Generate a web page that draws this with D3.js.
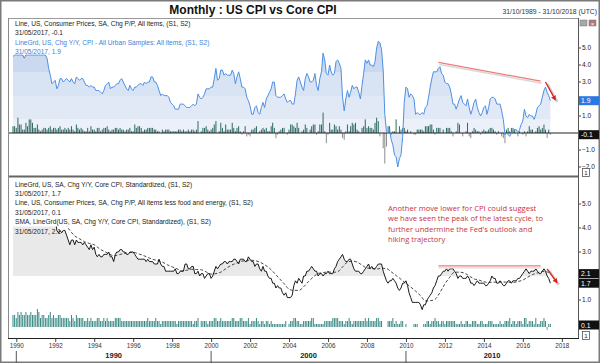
<!DOCTYPE html>
<html>
<head>
<meta charset="utf-8">
<script src="https://cdn.jsdelivr.net/npm/d3@7"></script>
<style>
body { margin: 0; background: #fff; }
svg text { font-family: "Liberation Sans", Arial, sans-serif; }
</style>
</head>
<body>
<div id="chart"></div>
<script>
// monthly series, first value = Oct 1989, last value = May 2017
const cpiYoY = [
  4.5, 4.7, 4.6,
  5.2, 5.3, 5.2, 4.7, 4.4, 4.7, 4.8, 5.6, 6.2, 6.3, 6.3, 6.1,
  5.7, 5.3, 4.9, 4.9, 5.0, 4.7, 4.4, 3.8, 3.4, 2.9, 3.0, 3.1,
  2.6, 2.8, 3.2, 3.2, 3.0, 3.1, 3.2, 3.1, 3.0, 3.2, 3.0, 2.9,
  3.3, 3.2, 3.1, 3.2, 3.2, 3.0, 2.8, 2.8, 2.7, 2.8, 2.7, 2.7,
  2.5, 2.5, 2.5, 2.4, 2.3, 2.5, 2.8, 2.9, 3.0, 2.6, 2.7, 2.7,
  2.8, 2.9, 2.9, 3.1, 3.2, 3.0, 2.8, 2.6, 2.5, 2.8, 2.6, 2.5,
  2.7, 2.7, 2.8, 2.9, 2.9, 2.8, 3.0, 2.9, 3.0, 3.0, 3.3, 3.3,
  3.0, 3.0, 2.8, 2.5, 2.2, 2.3, 2.2, 2.2, 2.2, 2.1, 1.8, 1.7,
  1.6, 1.4, 1.4, 1.4, 1.7, 1.7, 1.7, 1.6, 1.5, 1.5, 1.5, 1.6,
  1.7, 1.6, 1.7, 2.3, 2.1, 2.0, 2.1, 2.3, 2.6, 2.6, 2.6, 2.7,
  2.7, 3.2, 3.8, 3.1, 3.2, 3.7, 3.7, 3.4, 3.5, 3.4, 3.4, 3.4,
  3.7, 3.5, 2.9, 3.3, 3.6, 3.2, 2.7, 2.7, 2.6, 2.1, 1.9, 1.6,
  1.1, 1.1, 1.5, 1.6, 1.2, 1.1, 1.5, 1.8, 1.5, 2.0, 2.2, 2.4,
  2.6, 3.0, 3.0, 2.2, 2.1, 2.1, 2.1, 2.2, 2.3, 2.0, 1.8, 1.9,
  1.9, 1.7, 1.7, 2.3, 3.1, 3.3, 3.0, 2.7, 2.5, 3.2, 3.5, 3.3,
  3.0, 3.0, 3.1, 3.5, 2.8, 2.5, 3.2, 3.6, 4.7, 4.3, 3.5, 3.4,
  4.0, 3.6, 3.4, 3.5, 4.2, 4.3, 4.1, 3.8, 2.1, 1.3, 2.0, 2.5,
  2.1, 2.4, 2.8, 2.6, 2.7, 2.7, 2.4, 2.0, 2.8, 3.5, 4.3, 4.1,
  4.3, 4.0, 4.0, 3.9, 4.2, 5.0, 5.4, 5.3, 4.9, 3.7, 1.1, 0.1,
  0.0, 0.2, -0.4, -0.7, -1.3, -1.4, -2.0, -1.5, -1.3, -0.2, 1.8, 2.7,
  2.6, 2.1, 2.3, 2.2, 2.0, 1.1, 1.2, 1.1, 1.1, 1.2, 1.1, 1.5,
  1.6, 2.1, 2.7, 3.2, 3.6, 3.6, 3.6, 3.8, 3.9, 3.5, 3.4, 3.0,
  2.9, 2.9, 2.7, 2.3, 1.7, 1.7, 1.4, 1.7, 2.0, 2.2, 1.8, 1.7,
  1.6, 2.0, 1.5, 1.1, 1.4, 1.8, 2.0, 1.5, 1.2, 1.0, 1.2, 1.5,
  1.6, 1.1, 1.5, 2.0, 2.1, 2.1, 2.0, 1.7, 1.7, 1.7, 1.3, 0.8,
  -0.1, 0.0, -0.1, -0.2, 0.0, 0.1, 0.2, 0.2, 0.0, 0.2, 0.5, 0.7,
  1.4, 1.0, 0.9, 1.1, 1.0, 1.0, 0.8, 1.1, 1.5, 1.6, 1.7, 2.1,
  2.5, 2.7, 2.4, 2.2, 1.9
];

const cpiMoM = [
  0.4, 0.4, 0.3,
  0.9, 0.5, 0.5, 0.2, 0.2, 0.6, 0.4, 0.8, 0.8, 0.6, 0.3, 0.3,
  0.5, 0.2, 0.1, 0.2, 0.3, 0.3, 0.2, 0.3, 0.4, 0.2, 0.3, 0.3,
  0.2, 0.3, 0.4, 0.2, 0.2, 0.3, 0.2, 0.3, 0.2, 0.4, 0.2, 0.1,
  0.5, 0.3, 0.2, 0.3, 0.2, 0.1, 0.1, 0.3, 0.1, 0.4, 0.2, 0.2,
  0.1, 0.3, 0.3, 0.1, 0.2, 0.3, 0.3, 0.4, 0.2, 0.1, 0.2, 0.2,
  0.3, 0.3, 0.2, 0.3, 0.2, 0.2, 0.1, 0.2, 0.2, 0.3, 0.1, 0.1,
  0.5, 0.3, 0.4, 0.4, 0.3, 0.1, 0.2, 0.2, 0.3, 0.3, 0.3, 0.3,
  0.2, 0.2, 0.1, 0.1, 0.0, 0.2, 0.1, 0.2, 0.2, 0.2, 0.1, 0.1,
  0.1, 0.1, 0.1, 0.2, 0.2, 0.1, 0.2, 0.1, 0.1, 0.2, 0.1, 0.2,
  0.2, 0.1, 0.2, 0.7, 0.0, 0.1, 0.3, 0.3, 0.4, 0.2, 0.1, 0.2,
  0.3, 0.5, 0.7, 0.0, 0.1, 0.6, 0.3, 0.1, 0.5, 0.2, 0.2, 0.2,
  0.6, 0.3, 0.1, 0.3, 0.4, 0.1, -0.1, 0.1, 0.4, -0.2, -0.1, -0.2,
  0.2, 0.2, 0.3, 0.4, 0.0, 0.1, 0.2, 0.3, 0.2, 0.3, 0.1, 0.1,
  0.4, 0.6, 0.3, -0.3, -0.1, 0.1, 0.2, 0.3, 0.3, 0.0, -0.1, 0.2,
  0.5, 0.5, 0.4, 0.3, 0.6, 0.3, 0.0, 0.1, 0.2, 0.5, 0.3, 0.0,
  0.2, 0.4, 0.5, 0.5, -0.1, 0.1, 0.5, 0.5, 1.2, 0.1, -0.6, -0.1,
  0.6, 0.2, 0.2, 0.5, 0.4, 0.2, 0.4, 0.2, -0.3, -0.4, 0.1, 0.5,
  0.1, 0.4, 0.6, 0.5, 0.6, 0.2, 0.1, 0.0, 0.3, 0.4, 0.8, 0.3,
  0.4, 0.3, 0.3, 0.2, 0.6, 0.9, 0.7, -0.2, 0.0, -0.9, -1.8, -0.8,
  0.4, 0.4, -0.1, 0.1, 0.1, 0.8, 0.0, 0.4, 0.2, 0.3, 0.3, 0.1,
  0.2, 0.0, 0.1, 0.0, -0.1, -0.1, 0.2, 0.2, 0.2, 0.2, 0.1, 0.4,
  0.4, 0.4, 0.5, 0.5, 0.2, -0.1, 0.3, 0.3, 0.3, 0.0, 0.2, 0.0,
  0.3, 0.3, 0.3, 0.1, -0.2, 0.0, 0.1, 0.6, 0.5, 0.0, -0.2, 0.0,
  0.1, 0.6, -0.2, -0.3, 0.1, 0.3, 0.2, 0.1, 0.1, -0.1, 0.1, 0.2,
  0.1, 0.1, 0.2, 0.3, 0.3, 0.2, 0.1, -0.1, 0.1, 0.0, -0.2, -0.3,
  -0.6, 0.2, 0.3, 0.1, 0.3, 0.3, 0.2, 0.0, -0.2, 0.1, 0.0, -0.1,
  0.1, -0.2, 0.1, 0.4, 0.2, 0.2, 0.0, 0.1, 0.3, 0.4, 0.2, 0.3,
  0.5, 0.2, -0.3, 0.2, -0.1
];

const coreYoY = [
  4.4, 4.4, 4.4,
  4.4, 4.6, 4.9, 4.8, 4.8, 4.8, 5.0, 5.5, 5.5, 5.3, 5.3, 5.2,
  5.6, 5.6, 5.2, 5.1, 5.1, 4.8, 4.6, 4.6, 4.6, 4.4, 4.5, 4.4,
  3.9, 3.8, 3.9, 3.8, 3.9, 3.9, 3.7, 3.5, 3.3, 3.5, 3.5, 3.3,
  3.5, 3.4, 3.4, 3.4, 3.3, 3.4, 3.3, 3.2, 3.1, 3.3, 3.1, 3.2,
  2.9, 2.8, 2.9, 2.8, 2.8, 2.9, 2.9, 2.9, 3.0, 2.8, 2.8, 2.6,
  2.9, 3.0, 3.0, 3.1, 3.1, 3.0, 3.0, 2.9, 2.9, 3.0, 3.0, 3.0,
  2.9, 2.8, 2.7, 2.7, 2.7, 2.7, 2.7, 2.6, 2.7, 2.6, 2.6, 2.6,
  2.5, 2.5, 2.5, 2.7, 2.5, 2.4, 2.4, 2.2, 2.2, 2.2, 2.2, 2.2,
  2.2, 2.3, 2.1, 2.1, 2.2, 2.2, 2.2, 2.5, 2.5, 2.3, 2.3, 2.4,
  2.4, 2.1, 2.1, 2.2, 2.0, 2.1, 2.1, 1.9, 2.0, 2.1, 2.1, 1.9,
  2.0, 2.2, 2.4, 2.3, 2.4, 2.5, 2.5, 2.6, 2.6, 2.5, 2.6, 2.6,
  2.6, 2.7, 2.7, 2.6, 2.5, 2.7, 2.7, 2.7, 2.6, 2.6, 2.8, 2.7,
  2.6, 2.6, 2.4, 2.5, 2.5, 2.3, 2.2, 2.4, 2.2, 2.2, 2.0, 1.9,
  1.9, 1.7, 1.7, 1.5, 1.6, 1.5, 1.5, 1.3, 1.2, 1.3, 1.1, 1.1,
  1.1, 1.2, 1.6, 1.8, 1.7, 1.9, 1.8, 1.7, 2.0, 2.0, 2.2, 2.2,
  2.3, 2.4, 2.3, 2.2, 2.2, 2.0, 2.1, 2.1, 2.0, 2.1, 2.1, 2.2,
  2.1, 2.1, 2.1, 2.3, 2.4, 2.6, 2.7, 2.8, 2.9, 2.7, 2.6, 2.6,
  2.7, 2.7, 2.5, 2.3, 2.2, 2.2, 2.2, 2.1, 2.1, 2.2, 2.3, 2.4,
  2.5, 2.3, 2.4, 2.3, 2.3, 2.4, 2.5, 2.5, 2.5, 2.2, 2.0, 1.8,
  1.7, 1.8, 1.8, 1.9, 1.8, 1.7, 1.5, 1.4, 1.5, 1.7, 1.7, 1.8,
  1.6, 1.3, 1.1, 0.9, 0.9, 0.9, 0.9, 0.9, 0.8, 0.6, 0.8, 0.8,
  1.0, 1.1, 1.2, 1.3, 1.5, 1.6, 1.8, 2.0, 2.0, 2.1, 2.2, 2.2,
  2.3, 2.2, 2.3, 2.3, 2.3, 2.2, 2.1, 1.9, 2.0, 2.0, 1.9, 1.9,
  1.9, 2.0, 1.9, 1.7, 1.7, 1.6, 1.7, 1.8, 1.7, 1.7, 1.7, 1.7,
  1.6, 1.6, 1.7, 1.8, 2.0, 1.9, 1.9, 1.7, 1.7, 1.8, 1.7, 1.6,
  1.6, 1.7, 1.8, 1.8, 1.7, 1.8, 1.8, 1.8, 1.9, 1.9, 2.0, 2.1,
  2.2, 2.3, 2.2, 2.1, 2.2, 2.2, 2.2, 2.3, 2.2, 2.1, 2.1, 2.2,
  2.3, 2.2, 2.0, 1.9, 1.7
];

const coreMoM = [
  0.4, 0.4, 0.3,
  0.5, 0.4, 0.5, 0.4, 0.4, 0.5, 0.4, 0.4, 0.5, 0.4, 0.4, 0.4,
  0.6, 0.5, 0.3, 0.4, 0.4, 0.3, 0.3, 0.4, 0.5, 0.3, 0.4, 0.3,
  0.3, 0.4, 0.4, 0.3, 0.3, 0.3, 0.3, 0.3, 0.2, 0.4, 0.3, 0.2,
  0.4, 0.3, 0.3, 0.3, 0.3, 0.2, 0.2, 0.3, 0.2, 0.3, 0.2, 0.2,
  0.2, 0.3, 0.3, 0.2, 0.2, 0.3, 0.2, 0.3, 0.2, 0.2, 0.2, 0.2,
  0.3, 0.3, 0.3, 0.3, 0.2, 0.2, 0.2, 0.2, 0.2, 0.2, 0.2, 0.2,
  0.2, 0.2, 0.2, 0.2, 0.2, 0.2, 0.2, 0.2, 0.3, 0.2, 0.2, 0.2,
  0.2, 0.3, 0.2, 0.2, 0.1, 0.2, 0.2, 0.2, 0.2, 0.2, 0.2, 0.2,
  0.2, 0.2, 0.1, 0.2, 0.2, 0.2, 0.2, 0.2, 0.2, 0.2, 0.2, 0.2,
  0.1, 0.2, 0.2, 0.3, 0.0, 0.2, 0.2, 0.2, 0.2, 0.1, 0.2, 0.2,
  0.2, 0.3, 0.3, 0.2, 0.2, 0.3, 0.2, 0.2, 0.2, 0.2, 0.2, 0.2,
  0.3, 0.3, 0.2, 0.2, 0.2, 0.3, 0.3, 0.2, 0.2, 0.2, 0.3, 0.1,
  0.2, 0.2, 0.2, 0.3, 0.2, 0.1, 0.2, 0.2, 0.1, 0.2, 0.2, 0.1,
  0.2, 0.1, 0.1, 0.1, 0.1, 0.1, 0.1, 0.1, 0.1, 0.2, 0.0, 0.1,
  0.2, 0.2, 0.3, 0.3, 0.2, 0.2, 0.1, 0.1, 0.2, 0.2, 0.2, 0.2,
  0.2, 0.3, 0.3, 0.1, 0.1, 0.1, 0.1, 0.1, 0.1, 0.2, 0.2, 0.2,
  0.2, 0.2, 0.3, 0.3, 0.3, 0.3, 0.2, 0.2, 0.2, 0.1, 0.2, 0.2,
  0.3, 0.2, 0.1, 0.2, 0.2, 0.2, 0.2, 0.2, 0.2, 0.2, 0.3, 0.2,
  0.3, 0.2, 0.2, 0.2, 0.2, 0.3, 0.3, 0.2, 0.2, 0.0, 0.0, 0.0,
  0.2, 0.2, 0.2, 0.3, 0.1, 0.2, 0.1, 0.1, 0.2, 0.2, 0.0, 0.1,
  0.0, 0.0, 0.0, 0.0, 0.1, 0.1, 0.1, 0.0, 0.0, 0.0, 0.1, 0.1,
  0.2, 0.2, 0.1, 0.2, 0.2, 0.3, 0.2, 0.2, 0.1, 0.2, 0.2, 0.1,
  0.2, 0.2, 0.2, 0.2, 0.2, 0.2, 0.1, 0.1, 0.1, 0.2, 0.1, 0.1,
  0.2, 0.2, 0.1, 0.1, 0.2, 0.2, 0.2, 0.1, 0.1, 0.2, 0.2, 0.1,
  0.1, 0.1, 0.2, 0.2, 0.2, 0.1, 0.1, 0.1, 0.1, 0.2, 0.1, 0.1,
  0.2, 0.2, 0.2, 0.3, 0.1, 0.2, 0.2, 0.1, 0.2, 0.2, 0.2, 0.1,
  0.3, 0.3, 0.1, 0.2, 0.2, 0.2, 0.1, 0.3, 0.1, 0.1, 0.2, 0.2,
  0.3, 0.2, -0.1, 0.1, 0.1
];

// 12m simple moving average of core, read at quarter ends
const smaDates = [
  "1989-12","1990-03","1990-06","1990-09","1990-12","1991-03","1991-06","1991-09","1991-12",
  "1992-03","1992-06","1992-09","1992-12","1993-03","1993-06","1993-09","1993-12",
  "1994-03","1994-06","1994-09","1994-12","1995-03","1995-06","1995-09","1995-12",
  "1996-03","1996-06","1996-09","1996-12","1997-03","1997-06","1997-09","1997-12",
  "1998-03","1998-06","1998-09","1998-12","1999-03","1999-06","1999-09","1999-12",
  "2000-03","2000-06","2000-09","2000-12","2001-03","2001-06","2001-09","2001-12",
  "2002-03","2002-06","2002-09","2002-12","2003-03","2003-06","2003-09","2003-12",
  "2004-03","2004-06","2004-09","2004-12","2005-03","2005-06","2005-09","2005-12",
  "2006-03","2006-06","2006-09","2006-12","2007-03","2007-06","2007-09","2007-12",
  "2008-03","2008-06","2008-09","2008-12","2009-03","2009-06","2009-09","2009-12",
  "2010-03","2010-06","2010-09","2010-12","2011-03","2011-06","2011-09","2011-12",
  "2012-03","2012-06","2012-09","2012-12","2013-03","2013-06","2013-09","2013-12",
  "2014-03","2014-06","2014-09","2014-12","2015-03","2015-06","2015-09","2015-12",
  "2016-03","2016-06","2016-09","2016-12","2017-03","2017-05"
];
const smaValues = [
  4.4, 4.45, 4.58, 4.8, 5.01, 5.15, 5.27, 5.1, 4.88,
  4.55, 4.19, 3.9, 3.67, 3.55, 3.43, 3.36, 3.3,
  3.15, 3.03, 2.93, 2.84, 2.88, 2.93, 2.97, 2.99,
  2.93, 2.86, 2.78, 2.69, 2.65, 2.58, 2.47, 2.38,
  2.3, 2.21, 2.24, 2.28, 2.27, 2.26, 2.17, 2.08,
  2.1, 2.16, 2.3, 2.43, 2.52, 2.6, 2.64, 2.66,
  2.64, 2.58, 2.47, 2.32, 2.12, 1.9, 1.68, 1.45,
  1.4, 1.4, 1.55, 1.77, 1.96, 2.11, 2.14, 2.17,
  2.15, 2.18, 2.38, 2.58, 2.62, 2.58, 2.45, 2.33,
  2.31, 2.29, 2.32, 2.31, 2.17, 2.02, 1.86, 1.69,
  1.54, 1.37, 1.18, 0.96, 0.97, 1.03, 1.32, 1.67,
  1.95, 2.16, 2.16, 2.12, 2.0, 1.88, 1.83, 1.76,
  1.73, 1.74, 1.75, 1.75, 1.74, 1.73, 1.77, 1.83,
  1.95, 2.06, 2.13, 2.19, 2.17, 2.1
];

const topLegend = [
  "Line, US, Consumer Prices, SA, Chg P/P, All items, (S1, S2)",
  "31/05/2017, -0.1",
  "LineGrd, US, Chg Y/Y, CPI - All Urban Samples: All items, (S1, S2)",
  "31/05/2017, 1.9"
];
const bottomLegend = [
  "LineGrd, US, SA, Chg Y/Y, Core CPI, Standardized, (S1, S2)",
  "31/05/2017, 1.7",
  "Line, US, Consumer Prices, SA, Chg P/P, All items less food and energy, (S1, S2)",
  "31/05/2017, 0.1",
  "SMA, LineGrd(US, SA, Chg Y/Y, Core CPI, Standardized), (S1, S2)",
  "31/05/2017, 2.1"
];
const note = [
  "Another move lower for CPI could suggest",
  "we have seen the peak of the latest cycle, to",
  "further undermine the Fed's outlook and",
  "hiking trajectory"
];
const topTicks = [5, 4, 3, 1, -1, -2];
const bottomTicks = [5, 4, 3, 1];
const decades = [1990, 2000, 2010];

// ---------- setup ----------
const W = 600, H = 363;
const L = 9, R = 578;
const top1 = 19, bot1 = 176, top2 = 178, bot2 = 338;

const svg = d3.select("#chart").append("svg")
  .attr("width", W).attr("height", H);

const monthEnd = i => new Date(1989, 9 + i + 1, 0);
const parseM = d3.timeParse("%Y-%m");

const x = d3.scaleTime()
  .domain([new Date(1989, 9, 31), new Date(2018, 9, 31)])
  .range([13, R]);
const yTop = d3.scaleLinear().domain([0, 5]).range([133, 48]);
const yBot = d3.scaleLinear().domain([0, 5]).range([324, 204]);
const yBar2 = d3.scaleLinear().domain([0, 0.5]).range([327, 312]);

const cpi = cpiYoY.map((v, i) => ({ date: monthEnd(i), v }));
const cpiBars = cpiMoM.map((v, i) => ({ date: monthEnd(i), v }));
const core = coreYoY.map((v, i) => ({ date: monthEnd(i), v }));
const coreBars = coreMoM.map((v, i) => ({ date: monthEnd(i), v }));
const sma = smaValues.map((v, i) => ({ date: d3.timeMonth.offset(parseM(smaDates[i]), 1), v }));

const defs = svg.append("defs");
defs.append("clipPath").attr("id", "clipTop").append("rect")
  .attr("x", L).attr("y", top1).attr("width", R - L).attr("height", bot1 - top1);
defs.append("clipPath").attr("id", "clipBot").append("rect")
  .attr("x", L).attr("y", top2).attr("width", R - L).attr("height", bot2 - top2);
defs.append("clipPath").attr("id", "clipAbove2").append("rect")
  .attr("x", L).attr("y", top2).attr("width", R - L).attr("height", yBot(2) - top2);

// stepped blue gradient for the CPI area
const bands = [
  [7, "#c3d4ee"], [5, "#cad9f0"], [3.6, "#d8e3f4"], [2.2, "#e2e9f6"], [0.8, "#ebf0f9"], [0, "#e2e9f6"], [-3, "#e2e9f6"]
];
const grad = defs.append("linearGradient").attr("id", "cpiGrad")
  .attr("gradientUnits", "userSpaceOnUse")
  .attr("x1", 0).attr("x2", 0).attr("y1", yTop(7)).attr("y2", yTop(-3));
const gy = d3.scaleLinear().domain([yTop(7), yTop(-3)]).range([0, 1]);
for (let i = 0; i < bands.length - 1; i++) {
  grad.append("stop").attr("offset", gy(yTop(bands[i][0]))).attr("stop-color", bands[i][1]);
  grad.append("stop").attr("offset", gy(yTop(bands[i + 1][0]))).attr("stop-color", bands[i][1]);
}

const arrow = defs.append("marker").attr("id", "arrowRed")
  .attr("viewBox", "0 0 10 10").attr("refX", 8).attr("refY", 5)
  .attr("markerWidth", 4).attr("markerHeight", 4).attr("orient", "auto");
arrow.append("path").attr("d", "M0,0L10,5L0,10z").attr("fill", "#e0201c");

// ---------- frame / header ----------
svg.append("rect").attr("x", 0.5).attr("y", 0.5).attr("width", W - 1).attr("height", H - 1)
  .attr("fill", "#fff").attr("stroke", "#7a7a7a").attr("stroke-width", 2);

svg.append("text").attr("x", 253).attr("y", 14).attr("text-anchor", "middle")
  .attr("font-size", 12).attr("font-weight", "bold").attr("fill", "#111")
  .text("Monthly : US CPI vs Core CPI");
svg.append("text").attr("x", 597).attr("y", 14).attr("text-anchor", "end")
  .attr("font-size", 6.8).attr("fill", "#333")
  .text("31/10/1989 - 31/10/2018 (UTC)");

// window icons
svg.append("rect").attr("x", 580).attr("y", 20).attr("width", 7).attr("height", 6)
  .attr("fill", "#a8a8a8").attr("stroke", "#777").attr("stroke-width", 0.5);
svg.append("rect").attr("x", 589).attr("y", 20).attr("width", 7).attr("height", 6)
  .attr("fill", "#b07a7a").attr("stroke", "#777").attr("stroke-width", 0.5);
svg.append("text").attr("x", 592.5).attr("y", 25.5).attr("text-anchor", "middle")
  .attr("font-size", 6).attr("fill", "#fff").text("×");

// ---------- top panel ----------
const gTop = svg.append("g").attr("clip-path", "url(#clipTop)");

gTop.append("path").datum(cpi)
  .attr("fill", "url(#cpiGrad)")
  .attr("d", d3.area().x(d => x(d.date)).y0(yTop(0)).y1(d => yTop(d.v)));

gTop.selectAll("rect.bar").data(cpiBars).join("rect")
  .attr("class", "bar")
  .attr("x", d => x(d.date) - 0.5)
  .attr("width", 1)
  .attr("y", d => Math.min(yTop(d.v), yTop(0)))
  .attr("height", d => Math.abs(yTop(d.v) - yTop(0)))
  .attr("fill", d => d.v >= 0 ? "#2d6b5e" : "#8c8c8c");

gTop.append("line").attr("x1", L).attr("x2", R)
  .attr("y1", yTop(0)).attr("y2", yTop(0))
  .attr("stroke", "#222").attr("stroke-width", 1);

// legend box sits over the start of the line
const legTopRight = 216, legTopBottom = 55;
gTop.append("path").datum(cpi)
  .attr("fill", "none").attr("stroke", "#4f8fe3").attr("stroke-width", 1)
  .attr("d", d3.line().x(d => x(d.date))
    .y(d => x(d.date) < legTopRight ? Math.max(yTop(d.v), legTopBottom) : yTop(d.v)));

gTop.append("rect").attr("x", L + 0.5).attr("y", top1 + 0.5)
  .attr("width", legTopRight - L).attr("height", legTopBottom - top1 - 1).attr("fill", "#fff");
svg.selectAll("text.legTop").data(topLegend).join("text")
  .attr("class", "legTop")
  .attr("x", 15).attr("y", (d, i) => 26 + i * 9.3)
  .attr("font-size", 6.6)
  .attr("fill", (d, i) => i < 2 ? "#222" : "#3d7fd9")
  .text(d => d);

// trend line and arrow (top)
const topTrend = [[new Date(2011, 8, 1), 4.15], [new Date(2016, 11, 1), 3.05]];
gTop.append("line")
  .attr("x1", x(topTrend[0][0]) + 1).attr("y1", yTop(topTrend[0][1]) + 2)
  .attr("x2", x(topTrend[1][0]) + 1).attr("y2", yTop(topTrend[1][1]) + 2)
  .attr("stroke", "#d8d8d8").attr("stroke-width", 1.5);
gTop.append("line")
  .attr("x1", x(topTrend[0][0])).attr("y1", yTop(topTrend[0][1]))
  .attr("x2", x(topTrend[1][0])).attr("y2", yTop(topTrend[1][1]))
  .attr("stroke", "#f07a78").attr("stroke-width", 1.2);
const topArrow = [[new Date(2017, 2, 1), 3.0], [new Date(2017, 8, 1), 1.95]];
gTop.append("line")
  .attr("x1", x(topArrow[0][0]) + 2).attr("y1", yTop(topArrow[0][1]) + 2)
  .attr("x2", x(topArrow[1][0]) + 2).attr("y2", yTop(topArrow[1][1]) + 2)
  .attr("stroke", "#cfcfcf").attr("stroke-width", 2.5);
gTop.append("line")
  .attr("x1", x(topArrow[0][0])).attr("y1", yTop(topArrow[0][1]))
  .attr("x2", x(topArrow[1][0])).attr("y2", yTop(topArrow[1][1]))
  .attr("stroke", "#e0201c").attr("stroke-width", 1.3).attr("marker-end", "url(#arrowRed)");

// right axis (top)
const axTop = svg.append("g");
axTop.selectAll("line").data(topTicks).join("line")
  .attr("x1", R).attr("x2", R + 3).attr("y1", d => yTop(d)).attr("y2", d => yTop(d))
  .attr("stroke", "#444");
axTop.selectAll("text").data(topTicks).join("text")
  .attr("x", R + 4).attr("y", d => yTop(d) + 2.3)
  .attr("font-size", 6.5).attr("fill", "#222")
  .text(d => d3.format(".1f")(d));

function valueBox(yPos, label, fill) {
  svg.append("rect").attr("x", R + 1).attr("y", yPos - 4.5).attr("width", W - R - 2).attr("height", 9)
    .attr("fill", fill);
  svg.append("text").attr("x", R + 3).attr("y", yPos + 2.5)
    .attr("font-size", 6.8).attr("fill", "#fff").text(label);
}
valueBox(yTop(1.9), "1.9", "#2b78e4");
valueBox(yTop(-0.1), "-0.1", "#111");

// ---------- bottom panel ----------
const gBot = svg.append("g").attr("clip-path", "url(#clipBot)");

gBot.append("path").datum(core)
  .attr("clip-path", "url(#clipAbove2)")
  .attr("fill", "#e9e9e9")
  .attr("d", d3.area().x(d => x(d.date)).y0(yBot(2)).y1(d => yBot(d.v)));

gBot.selectAll("rect.bar").data(coreBars).join("rect")
  .attr("class", "bar")
  .attr("x", d => x(d.date) - 0.5)
  .attr("width", 1)
  .attr("y", d => Math.min(yBar2(d.v), yBar2(0)))
  .attr("height", d => Math.abs(yBar2(d.v) - yBar2(0)))
  .attr("fill", d => d.v >= 0 ? "#3a8a85" : "#8c8c8c");

gBot.append("path").datum(sma)
  .attr("fill", "none").attr("stroke", "#333").attr("stroke-width", 0.9)
  .attr("stroke-dasharray", "3,2")
  .attr("d", d3.line().curve(d3.curveMonotoneX).x(d => x(d.date)).y(d => yBot(d.v)));

gBot.append("path").datum(core)
  .attr("fill", "none").attr("stroke", "#1a1a1a").attr("stroke-width", 1)
  .attr("d", d3.line().x(d => x(d.date)).y(d => yBot(d.v)));

gBot.append("rect").attr("x", L + 0.5).attr("y", top2 + 0.5)
  .attr("width", 256).attr("height", 48).attr("fill", "#fff");
svg.selectAll("text.legBot").data(bottomLegend).join("text")
  .attr("class", "legBot")
  .attr("x", 15).attr("y", (d, i) => 186.5 + i * 9.4)
  .attr("font-size", 6.6).attr("fill", "#222")
  .text(d => d);

// trend line and arrow (bottom)
const botTrend = [[new Date(2011, 8, 1), 2.42], [new Date(2016, 11, 1), 2.42]];
gBot.append("line")
  .attr("x1", x(botTrend[0][0])).attr("y1", yBot(botTrend[0][1]) + 2)
  .attr("x2", x(botTrend[1][0])).attr("y2", yBot(botTrend[1][1]) + 2)
  .attr("stroke", "#dcdcdc").attr("stroke-width", 1.2);
gBot.append("line")
  .attr("x1", x(botTrend[0][0])).attr("y1", yBot(botTrend[0][1]))
  .attr("x2", x(botTrend[1][0])).attr("y2", yBot(botTrend[1][1]))
  .attr("stroke", "#f07a78").attr("stroke-width", 1.2);
const botArrow = [[new Date(2017, 3, 1), 2.3], [new Date(2017, 9, 1), 1.72]];
gBot.append("line")
  .attr("x1", x(botArrow[0][0]) + 2).attr("y1", yBot(botArrow[0][1]) + 2)
  .attr("x2", x(botArrow[1][0]) + 2).attr("y2", yBot(botArrow[1][1]) + 2)
  .attr("stroke", "#cfcfcf").attr("stroke-width", 2.5);
gBot.append("line")
  .attr("x1", x(botArrow[0][0])).attr("y1", yBot(botArrow[0][1]))
  .attr("x2", x(botArrow[1][0])).attr("y2", yBot(botArrow[1][1]))
  .attr("stroke", "#e0201c").attr("stroke-width", 1.3).attr("marker-end", "url(#arrowRed)");

svg.selectAll("text.note").data(note).join("text")
  .attr("class", "note")
  .attr("x", 388).attr("y", (d, i) => 211 + i * 10.4)
  .attr("font-size", 7.6).attr("fill", "#c8323c")
  .style("font-family", "'Open Sans', sans-serif")
  .text(d => d);

// right axis (bottom)
const axBot = svg.append("g");
axBot.selectAll("line").data(bottomTicks).join("line")
  .attr("x1", R).attr("x2", R + 3).attr("y1", d => yBot(d)).attr("y2", d => yBot(d))
  .attr("stroke", "#444");
axBot.selectAll("text").data(bottomTicks).join("text")
  .attr("x", R + 4).attr("y", d => yBot(d) + 2.3)
  .attr("font-size", 6.5).attr("fill", "#222")
  .text(d => d3.format(".1f")(d));
valueBox(yBot(2.1), "2.1", "#111");
valueBox(yBot(1.7), "1.7", "#111");
valueBox(yBar2(0.1) + 1, "0.1", "#111");

// ---------- panel borders ----------
svg.append("line").attr("x1", L).attr("x2", R).attr("y1", top1 - 0.5).attr("y2", top1 - 0.5)
  .attr("stroke", "#9a9a9a");
svg.append("line").attr("x1", L).attr("x2", R).attr("y1", bot1 + 0.5).attr("y2", bot1 + 0.5)
  .attr("stroke", "#666").attr("stroke-width", 2);
svg.append("line").attr("x1", L - 0.5).attr("x2", L - 0.5).attr("y1", top1 - 1).attr("y2", bot2)
  .attr("stroke", "#8a8a8a");
svg.append("line").attr("x1", R + 0.5).attr("x2", R + 0.5).attr("y1", top1 - 1).attr("y2", bot2)
  .attr("stroke", "#555");

// panel number boxes
[bot1 - 2, bot2 - 1].forEach(yy => {
  svg.append("rect").attr("x", R + 4.5).attr("y", yy - 5.5).attr("width", 7).attr("height", 8)
    .attr("fill", "#fff").attr("stroke", "#555").attr("stroke-width", 0.8);
  svg.append("text").attr("x", R + 8).attr("y", yy + 1).attr("text-anchor", "middle")
    .attr("font-size", 6).attr("fill", "#222").text("1");
});

// ---------- x axis ----------
const xAxis = svg.append("g")
  .attr("transform", `translate(0,${bot2})`)
  .call(d3.axisBottom(x)
    .tickValues(d3.range(1990, 2019, 2).map(yr => new Date(yr, 0, 1)))
    .tickFormat(d3.timeFormat("%Y"))
    .tickSize(4).tickPadding(2));
xAxis.select(".domain").remove();
xAxis.selectAll(".tick line").attr("stroke", "#444");
xAxis.selectAll(".tick text").attr("font-size", 6.3).attr("fill", "#333")
  .attr("font-family", "'Liberation Sans', Arial, sans-serif");
svg.append("line").attr("x1", L - 1).attr("x2", R + 1).attr("y1", bot2 + 0.5).attr("y2", bot2 + 0.5)
  .attr("stroke", "#222");

decades.forEach(dec => {
  const x0 = x(new Date(dec, 0, 1));
  const x1 = Math.min(x(new Date(dec + 10, 0, 1)), R);
  svg.append("line").attr("x1", x0).attr("x2", x0).attr("y1", 351).attr("y2", H)
    .attr("stroke", "#555");
  svg.append("text").attr("x", (x0 + x1) / 2).attr("y", 358).attr("text-anchor", "middle")
    .attr("font-size", 7.5).attr("font-weight", "bold").attr("fill", "#222")
    .text(dec);
});
</script>
</body>
</html>
